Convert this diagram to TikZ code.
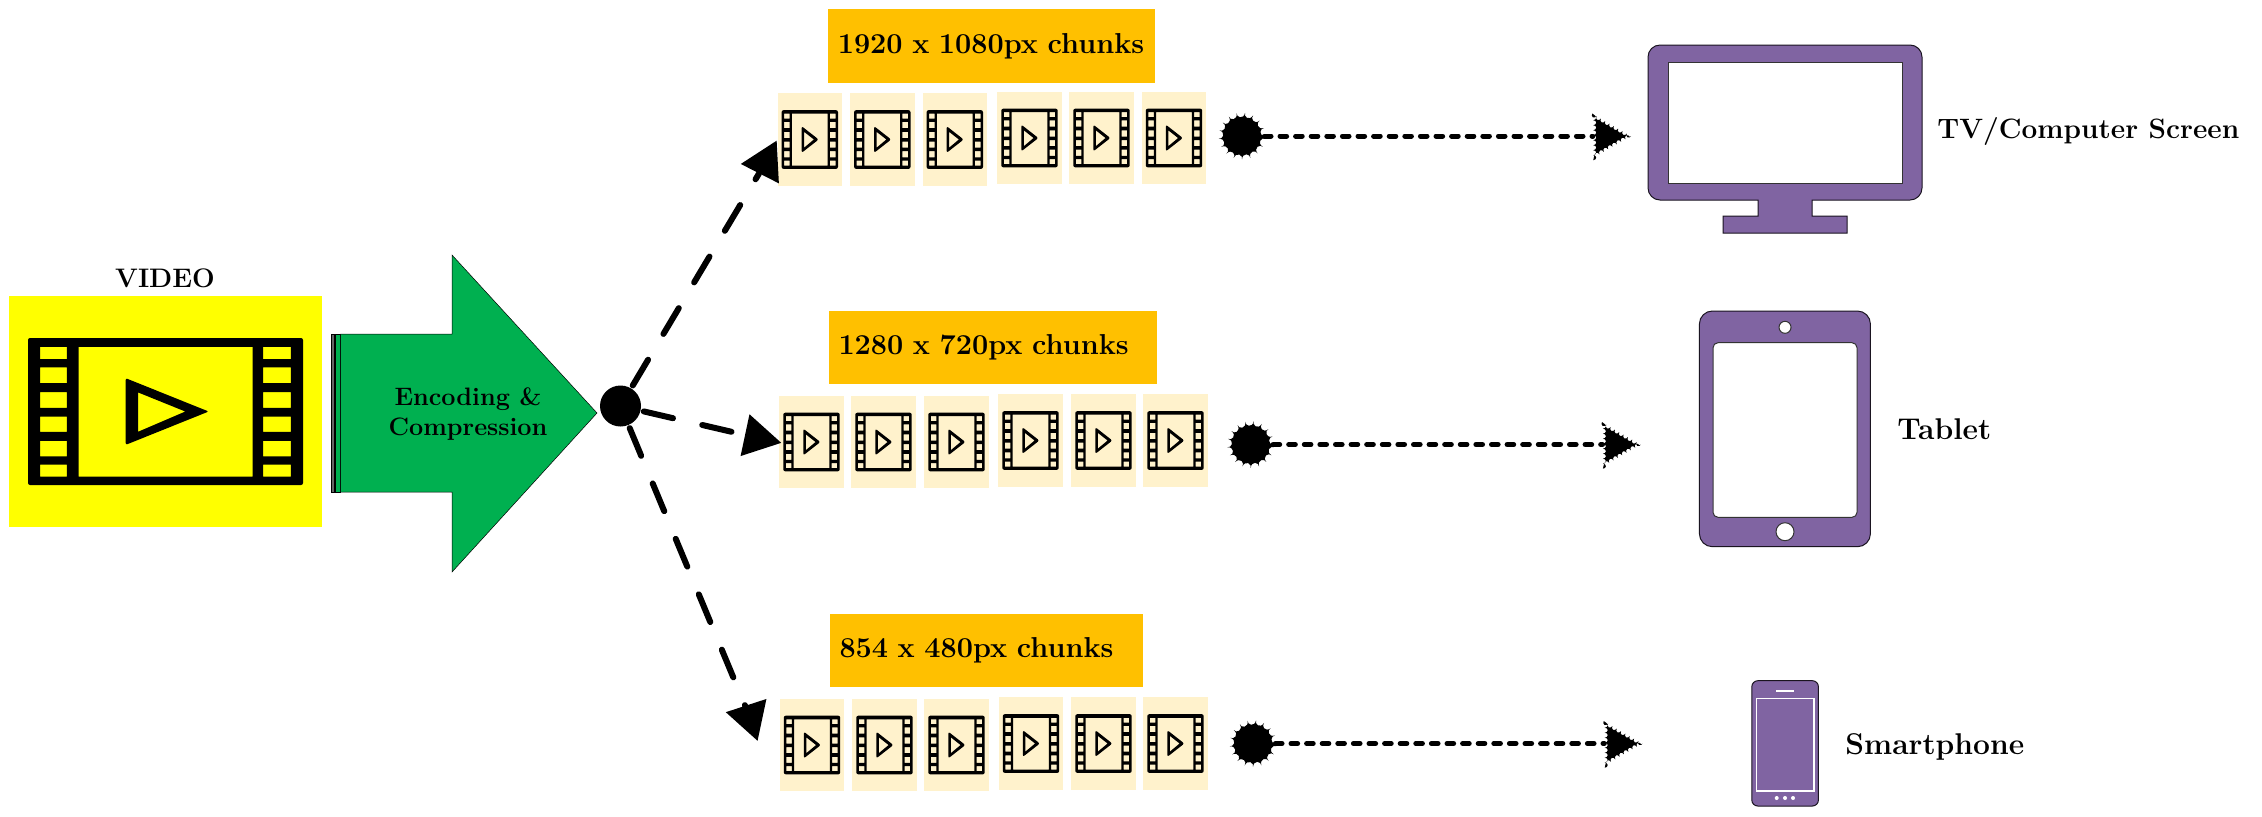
\documentclass[tikz,border=0pt]{standalone}
\usepackage{color}
\usetikzlibrary{shapes.geometric,decorations.pathmorphing}
\definecolor{ouryellow}{HTML}{FFFF00}
\definecolor{ourgreen}{HTML}{00B050}
\definecolor{ourorange}{HTML}{FFC000}
\definecolor{ourcream}{HTML}{FFF2CC}
\definecolor{ourpurple}{HTML}{8064A2}

\tikzset{film/.pic={
  \fill[even odd rule] [rounded corners=1pt] (-.5,-.5) rectangle (.5,.5) [sharp corners]
    (-.316,-.439) rectangle (.317,.443)
    foreach \a/\b in {-.439/-.357,-.3/-.193,-.132/-.025,.034/.138,.2/.305,.361/.443}{
      (-.456,\a) rectangle (-.359,\b) (.355,\a) rectangle (.456,\b)}
    [rounded corners=1pt] (-.145,-.227) -- (.157,0) -- (-.145,.227) -- cycle [sharp corners]
    (-.1,-.13) -- (.072,0) -- (-.1,.138) -- cycle;
}}

\begin{document}
\begin{tikzpicture}[x=0.5pt,y=-0.5pt]

  \tikzstyle{head}=[font=\fontsize{14.4}{17}\selectfont\bfseries]
  \tikzstyle{chunk}=[fill=ourcream, inner sep=0, minimum width=32.3pt, minimum height=46.4pt]
  \tikzstyle{smallfilm}=[xscale=56.4,yscale=58.7]
  \tikzstyle{res}=[fill=ourorange, head, align=left, inner xsep=4.75pt, inner ysep=0, minimum height=36.8pt]
  \tikzstyle{hub}=[fill, circle, inner sep=0, minimum size=20.5pt]
  \tikzstyle{tail}=[fill, circle, inner sep=0, minimum size=22pt, decorate, decoration={bumps,segment length=8pt,amplitude=1.8pt}]
  \tikzstyle{tip}=[fill, isosceles triangle, isosceles triangle apex angle=60, inner sep=0, minimum size=18.5pt]
  \tikzstyle{roughtip}=[tip, minimum size=19pt, decorate, decoration={bumps,segment length=5pt,amplitude=1.5pt}]
  \tikzstyle{longdash}=[line width=3pt, line cap=round, dash pattern=on 15pt off 15pt, dash phase=28.5pt]
  \tikzstyle{dotline}=[line width=2.5pt, line cap=round, dash pattern=on 3.3pt off 4.5pt]
  \tikzstyle{device}=[draw=black!80!ourpurple, fill=ourpurple, line width=0.5pt]
  \tikzstyle{screen}=[draw=black!80, fill=white, line width=0.5pt]
  \tikzstyle{stripe}=[fill=ourgreen, draw=black, line width=0.25pt]

  \useasboundingbox (0,0) rectangle (2262,816);

  % source
  \fill[ouryellow] (9,296) rectangle (322,527);
  \path (165.5,411.5) pic[xscale=275,yscale=147]{film};
  \path (165,278) node[font=\fontsize{13.4}{17}\selectfont\bfseries](video){VIDEO};

  % encoder arrow
  \draw[stripe,fill=black!60] (331,334) rectangle (334,492);
  \draw[stripe] (335.3,334) rectangle (340,492);
  \draw[stripe] (340.5,334) -- (452,334) -- (452,255) -- (597,413) -- (452,572) -- (452,492) -- (340.5,492) -- cycle;
  \path (468,414) node[font=\fontsize{12.6}{15}\selectfont\bfseries,align=center](encode){Encoding \&\\Compression};

  % top row
  \path (991.8,46) node[res,text width=154pt](resa){1920 x 1080px chunks};
  \path
  (809.8,139.5) node[chunk](aa){} pic[smallfilm]{film}
  (882.3,139.5) node[chunk](ab){} pic[smallfilm]{film}
  (954.8,139.5) node[chunk](ac){} pic[smallfilm]{film}
  (1029.5,138) node[chunk](ad){} pic[smallfilm]{film}
  (1101.5,138) node[chunk](ae){} pic[smallfilm]{film}
  (1174,138) node[chunk](af){} pic[smallfilm]{film};

  % middle row
  \path (993,347.5) node[res,text width=154.5pt](resb){1280 x 720px chunks};
  \path
  (811.5,442) node[chunk](ba){} pic[smallfilm]{film}
  (883.5,442) node[chunk](bb){} pic[smallfilm]{film}
  (956.5,442) node[chunk](bc){} pic[smallfilm]{film}
  (1030.5,440.5) node[chunk](bd){} pic[smallfilm]{film}
  (1103.5,440.5) node[chunk](be){} pic[smallfilm]{film}
  (1175.5,440.5) node[chunk](bf){} pic[smallfilm]{film};

  % bottom row
  \path (986.5,650.5) node[res,text width=147pt](resc){854 x 480px chunks};
  \path
  (812,745) node[chunk](ca){} pic[smallfilm]{film}
  (884.5,745) node[chunk](cb){} pic[smallfilm]{film}
  (956.5,745) node[chunk](cc){} pic[smallfilm]{film}
  (1031,743.5) node[chunk](cd){} pic[smallfilm]{film}
  (1103.5,743.5) node[chunk](ce){} pic[smallfilm]{film}
  (1175.5,743.5) node[chunk](cf){} pic[smallfilm]{film};

  \path (620.5,406) node[hub](splitter){};
  \path (740,164) node[tip,anchor=apex,rotate=183](tipa){};
  \path (782,443) node[tip,anchor=apex,rotate=-12](tipb){};
  \path (725,712) node[tip,anchor=apex,rotate=168](tipc){};

  \draw[longdash] (splitter) -- (tipa);
  \draw[longdash] (splitter) -- (tipb);
  \draw[longdash] (splitter) -- (tipc);

  \path
  (1242,136) node[tail](taila){}
  (1250.7,444.5) node[tail](tailb){}
  (1253,743.5) node[tail](tailc){};
  \path
  (1632,136) node[roughtip,anchor=apex](enda){}
  (1641.7,444.5) node[roughtip,anchor=apex](endb){}
  (1643.5,743.5) node[roughtip,anchor=apex](endc){};

  \draw[dotline] (taila) -- (enda);
  \draw[dotline] (tailb) -- (endb);
  \draw[dotline] (tailc) -- (endc);

  % monitor
  \draw[device] [rounded corners=6pt] (1785,45) -- (1922,45) -- (1922,200) [sharp corners] -- (1812,200) -- (1812,216)
    -- (1847,216) -- (1847,233) -- (1723,233) -- (1723,216) -- (1758,216) -- (1758,200) [rounded corners=6pt]
    -- (1648,200) -- (1648,45) -- cycle;
  \draw[screen] (1668,62) rectangle (1902,183);
  \path (1937,131) node[font=\fontsize{14}{17}\selectfont\bfseries,anchor=west,inner sep=0](tv){TV/Computer Screen};

  % tablet
  \draw[device,rounded corners=6.5pt] (1699.4,311) rectangle (1870.4,546.7);
  \draw[screen,rounded corners=2.5pt] (1713,342.7) rectangle (1857,517.3);
  \draw[screen] (1785,327.3) circle (6);
  \draw[screen] (1785,531.7) circle (9);
  \path (1897,429) node[font=\fontsize{15}{17}\selectfont\bfseries,anchor=west,inner sep=0](tablet){Tablet};

  % phone
  \draw[device,rounded corners=3pt] (1751.8,680.7) rectangle (1818.4,806);
  \draw[white,line width=0.7pt] (1756.4,698.3) rectangle (1813.8,791);
  \draw[white,line width=0.7pt] (1776,691) -- (1794,691);
  \fill[white] (1776.7,798) circle (2) (1785,798) circle (2) (1793,798) circle (2);
  \path (1845,747) node[font=\fontsize{15}{17}\selectfont\bfseries,anchor=west,inner sep=0](phone){Smartphone};
\end{tikzpicture}
\end{document}
